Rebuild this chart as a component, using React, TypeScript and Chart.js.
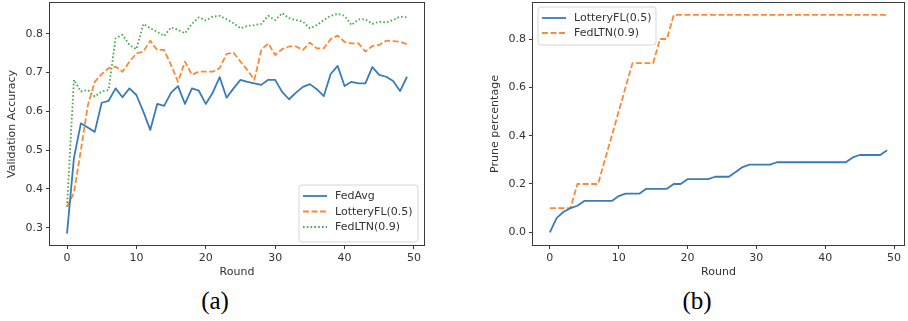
import React, { useEffect, useRef } from 'react';
import { Chart, registerables } from 'chart.js';

Chart.register(...registerables);

// ---------- data ----------
const rounds = [
  0, 1, 2, 3, 4, 5, 6, 7, 8, 9, 10, 11, 12, 13, 14, 15, 16, 17, 18, 19,
  20, 21, 22, 23, 24, 25, 26, 27, 28, 29, 30, 31, 32, 33, 34, 35, 36, 37, 38, 39,
  40, 41, 42, 43, 44, 45, 46, 47, 48, 49,
];

const accFedAvg = [
  0.285, 0.48, 0.569, 0.558, 0.547, 0.622, 0.627, 0.659, 0.636, 0.659,
  0.642, 0.599, 0.552, 0.619, 0.614, 0.648, 0.665, 0.619, 0.659, 0.653,
  0.619, 0.648, 0.688, 0.635, 0.659, 0.681, 0.676, 0.672, 0.668, 0.681,
  0.681, 0.65, 0.631, 0.648, 0.663, 0.67, 0.657, 0.639, 0.696, 0.717,
  0.665, 0.676, 0.672, 0.672, 0.714, 0.694, 0.689, 0.678, 0.652, 0.689,
];

const accLotteryFL = [
  0.354, 0.39, 0.5, 0.615, 0.676, 0.696, 0.711, 0.715, 0.702, 0.728,
  0.749, 0.754, 0.782, 0.758, 0.758, 0.719, 0.676, 0.728, 0.694, 0.702,
  0.702, 0.702, 0.711, 0.748, 0.751, 0.728, 0.706, 0.681, 0.758, 0.775,
  0.745, 0.76, 0.767, 0.767, 0.758, 0.777, 0.762, 0.762, 0.786, 0.795,
  0.779, 0.775, 0.775, 0.754, 0.768, 0.771, 0.782, 0.781, 0.779, 0.773,
];

const accFedLTN = [
  0.354, 0.681, 0.651, 0.655, 0.638, 0.651, 0.655, 0.788, 0.797, 0.771,
  0.76, 0.825, 0.814, 0.805, 0.794, 0.816, 0.81, 0.801, 0.825, 0.842,
  0.834, 0.844, 0.846, 0.837, 0.827, 0.814, 0.82, 0.822, 0.825, 0.846,
  0.835, 0.853, 0.84, 0.835, 0.831, 0.814, 0.822, 0.835, 0.846, 0.851,
  0.846, 0.822, 0.837, 0.837, 0.825, 0.831, 0.829, 0.835, 0.844, 0.842,
];

const pruneLotteryFL = [
  0.0, 0.06, 0.085, 0.1, 0.11, 0.13, 0.13, 0.13, 0.13, 0.13,
  0.15, 0.16, 0.16, 0.16, 0.18, 0.18, 0.18, 0.18, 0.2, 0.2,
  0.22, 0.22, 0.22, 0.22, 0.23, 0.23, 0.23, 0.25, 0.27, 0.28,
  0.28, 0.28, 0.28, 0.29, 0.29, 0.29, 0.29, 0.29, 0.29, 0.29,
  0.29, 0.29, 0.29, 0.29, 0.31, 0.32, 0.32, 0.32, 0.32, 0.34,
];

const pruneFedLTN = [
  0.1, 0.1, 0.1, 0.1, 0.2, 0.2, 0.2, 0.2, 0.3, 0.4,
  0.5, 0.6, 0.7, 0.7, 0.7, 0.7, 0.8, 0.8, 0.9, 0.9,
  0.9, 0.9, 0.9, 0.9, 0.9, 0.9, 0.9, 0.9, 0.9, 0.9,
  0.9, 0.9, 0.9, 0.9, 0.9, 0.9, 0.9, 0.9, 0.9, 0.9,
  0.9, 0.9, 0.9, 0.9, 0.9, 0.9, 0.9, 0.9, 0.9, 0.9,
];

const labelsLeft = ['FedAvg', 'LotteryFL(0.5)', 'FedLTN(0.9)'];
const labelsRight = ['LotteryFL(0.5)', 'FedLTN(0.9)'];

// ---------- styles ----------
const BLUE = 'rgb(58,123,186)';
const ORANGE = 'rgb(250,138,55)';
const GREEN = 'rgb(70,170,70)';
const TEXT = '#333';
const FONT = 'DejaVu Sans';

const boxLegend = {
  id: 'boxLegend',
  afterDraw(chart: any, _args: any, opts: any) {
    const { ctx, chartArea } = chart;
    const { corner, w, h, dx, dy, rowH, firstY } = opts;
    const x = corner === 'br' ? chartArea.right - dx - w : chartArea.left + dx;
    const y = corner === 'br' ? chartArea.bottom - dy - h : chartArea.top + dy;
    ctx.save();
    ctx.beginPath();
    const r = 3;
    ctx.moveTo(x + r, y);
    ctx.lineTo(x + w - r, y);
    ctx.quadraticCurveTo(x + w, y, x + w, y + r);
    ctx.lineTo(x + w, y + h - r);
    ctx.quadraticCurveTo(x + w, y + h, x + w - r, y + h);
    ctx.lineTo(x + r, y + h);
    ctx.quadraticCurveTo(x, y + h, x, y + h - r);
    ctx.lineTo(x, y + r);
    ctx.quadraticCurveTo(x, y, x + r, y);
    ctx.closePath();
    ctx.fillStyle = 'rgba(255,255,255,0.85)';
    ctx.fill();
    ctx.strokeStyle = '#d6d6d6';
    ctx.lineWidth = 1;
    ctx.stroke();
    chart.data.datasets.forEach((ds: any, i: number) => {
      const cy = y + firstY + i * rowH;
      ctx.beginPath();
      ctx.setLineDash(ds.borderDash || []);
      ctx.strokeStyle = ds.borderColor;
      ctx.lineWidth = ds.borderWidth;
      ctx.moveTo(x + 4, cy);
      ctx.lineTo(x + 28, cy);
      ctx.stroke();
      ctx.setLineDash([]);
      ctx.fillStyle = TEXT;
      ctx.font = `11px "${FONT}"`;
      ctx.textBaseline = 'middle';
      ctx.textAlign = 'left';
      ctx.fillText(ds.label, x + 36, cy + 0.5);
    });
    ctx.restore();
  },
};

const frame = {
  id: 'frame',
  afterDraw(chart: any) {
    const { ctx, chartArea } = chart;
    ctx.save();
    ctx.strokeStyle = '#3a3a3a';
    ctx.lineWidth = 1;
    ctx.strokeRect(
      Math.round(chartArea.left) - 0.5,
      Math.round(chartArea.top) - 0.5,
      Math.round(chartArea.right - chartArea.left) + 1,
      Math.round(chartArea.bottom - chartArea.top) + 1
    );
    ctx.restore();
  },
};

function pts(vals: number[]) {
  return rounds.map((r, i) => ({ x: r, y: vals[i] }));
}

function makeConfig(p: {
  datasets: any[];
  yMin: number;
  yMax: number;
  yStep: number;
  yTitle: string;
  yWidth: number;
  yTitlePad: number;
  padRight: number;
  legend: any;
}) {
  return {
    type: 'line',
    data: { datasets: p.datasets },
    plugins: [frame, boxLegend],
    options: {
      animation: false,
      responsive: false,
      events: [],
      layout: { padding: { top: 3, right: p.padRight, left: 0, bottom: 0 } },
      plugins: {
        legend: { display: false },
        tooltip: { enabled: false },
        boxLegend: p.legend,
      },
      elements: { point: { radius: 0 }, line: { tension: 0 } },
      scales: {
        x: {
          type: 'linear',
          min: -2.45,
          max: 51.45,
          afterFit: (s: any) => {
            s.height = 40;
            s.paddingLeft = 0;
            s.paddingRight = 0;
          },
          border: { display: false },
          grid: { drawOnChartArea: false, drawTicks: true, tickLength: 4, tickColor: '#3a3a3a' },
          ticks: {
            stepSize: 10,
            includeBounds: false,
            padding: 3,
            color: TEXT,
            font: { family: FONT, size: 11 },
            maxRotation: 0,
            callback: (v: any) => String(Math.round(Number(v))),
          },
          title: {
            display: true,
            text: 'Round',
            color: TEXT,
            font: { family: FONT, size: 11 },
            padding: { top: 0, bottom: 6 },
          },
        },
        y: {
          type: 'linear',
          min: p.yMin,
          max: p.yMax,
          afterFit: (s: any) => {
            s.width = p.yWidth;
            s.paddingTop = 0;
            s.paddingBottom = 0;
          },
          border: { display: false },
          grid: { drawOnChartArea: false, drawTicks: true, tickLength: 4, tickColor: '#3a3a3a' },
          ticks: {
            stepSize: p.yStep,
            includeBounds: false,
            padding: 3,
            color: TEXT,
            font: { family: FONT, size: 11 },
            callback: (v: any) => Number(v).toFixed(1),
          },
          title: {
            display: true,
            text: p.yTitle,
            color: TEXT,
            font: { family: FONT, size: 11 },
            padding: { top: p.yTitlePad, bottom: 0 },
          },
        },
      },
    },
  };
}

function ChartBox(props: { config: any; left: number; width: number; height: number }) {
  const ref = useRef<HTMLCanvasElement>(null);
  useEffect(() => {
    const chart = new Chart(ref.current as HTMLCanvasElement, props.config);
    return () => chart.destroy();
  }, []);
  return (
    <canvas
      ref={ref}
      width={props.width}
      height={props.height}
      style={{ position: 'absolute', left: props.left, top: 0, width: props.width, height: props.height }}
    />
  );
}

const lineBase = { borderWidth: 1.8, pointRadius: 0, fill: false, borderJoinStyle: 'round' };

const leftConfig = makeConfig({
  datasets: [
    { ...lineBase, label: labelsLeft[0], data: pts(accFedAvg), borderColor: BLUE },
    { ...lineBase, label: labelsLeft[1], data: pts(accLotteryFL), borderColor: ORANGE, borderDash: [6, 2.5] },
    { ...lineBase, label: labelsLeft[2], data: pts(accFedLTN), borderColor: GREEN, borderDash: [1.6, 2.2] },
  ],
  yMin: 0.2555,
  yMax: 0.879,
  yStep: 0.1,
  yTitle: 'Validation Accuracy',
  yWidth: 50,
  yTitlePad: 6,
  padRight: 8,
  legend: { corner: 'br', w: 119, h: 57, dx: 6, dy: 3, rowH: 15.5, firstY: 11 },
});

const rightConfig = makeConfig({
  datasets: [
    { ...lineBase, label: labelsRight[0], data: pts(pruneLotteryFL), borderColor: BLUE },
    { ...lineBase, label: labelsRight[1], data: pts(pruneFedLTN), borderColor: ORANGE, borderDash: [6, 2.5] },
  ],
  yMin: -0.0525,
  yMax: 0.949,
  yStep: 0.2,
  yTitle: 'Prune percentage',
  yWidth: 49,
  yTitlePad: 5,
  padRight: 4,
  legend: { corner: 'tl', w: 118, h: 38, dx: 5, dy: 4, rowH: 15, firstY: 11 },
});

export default function App() {
  return (
    <div style={{ position: 'fixed', left: 0, top: 0, width: 908, height: 321, background: '#fff', overflow: 'hidden' }}>
      <ChartBox config={leftConfig} left={0} width={432} height={285} />
      <ChartBox config={rightConfig} left={484} width={424} height={285} />
      <div
        style={{
          position: 'absolute', left: 165, width: 100, top: 288, height: 26, lineHeight: '26px',
          textAlign: 'center', fontFamily: '"Liberation Serif", serif', fontSize: 25, color: '#000',
        }}
      >
        (a)
      </div>
      <div
        style={{
          position: 'absolute', left: 647, width: 100, top: 288, height: 26, lineHeight: '26px',
          textAlign: 'center', fontFamily: '"Liberation Serif", serif', fontSize: 25, color: '#000',
        }}
      >
        (b)
      </div>
    </div>
  );
}
